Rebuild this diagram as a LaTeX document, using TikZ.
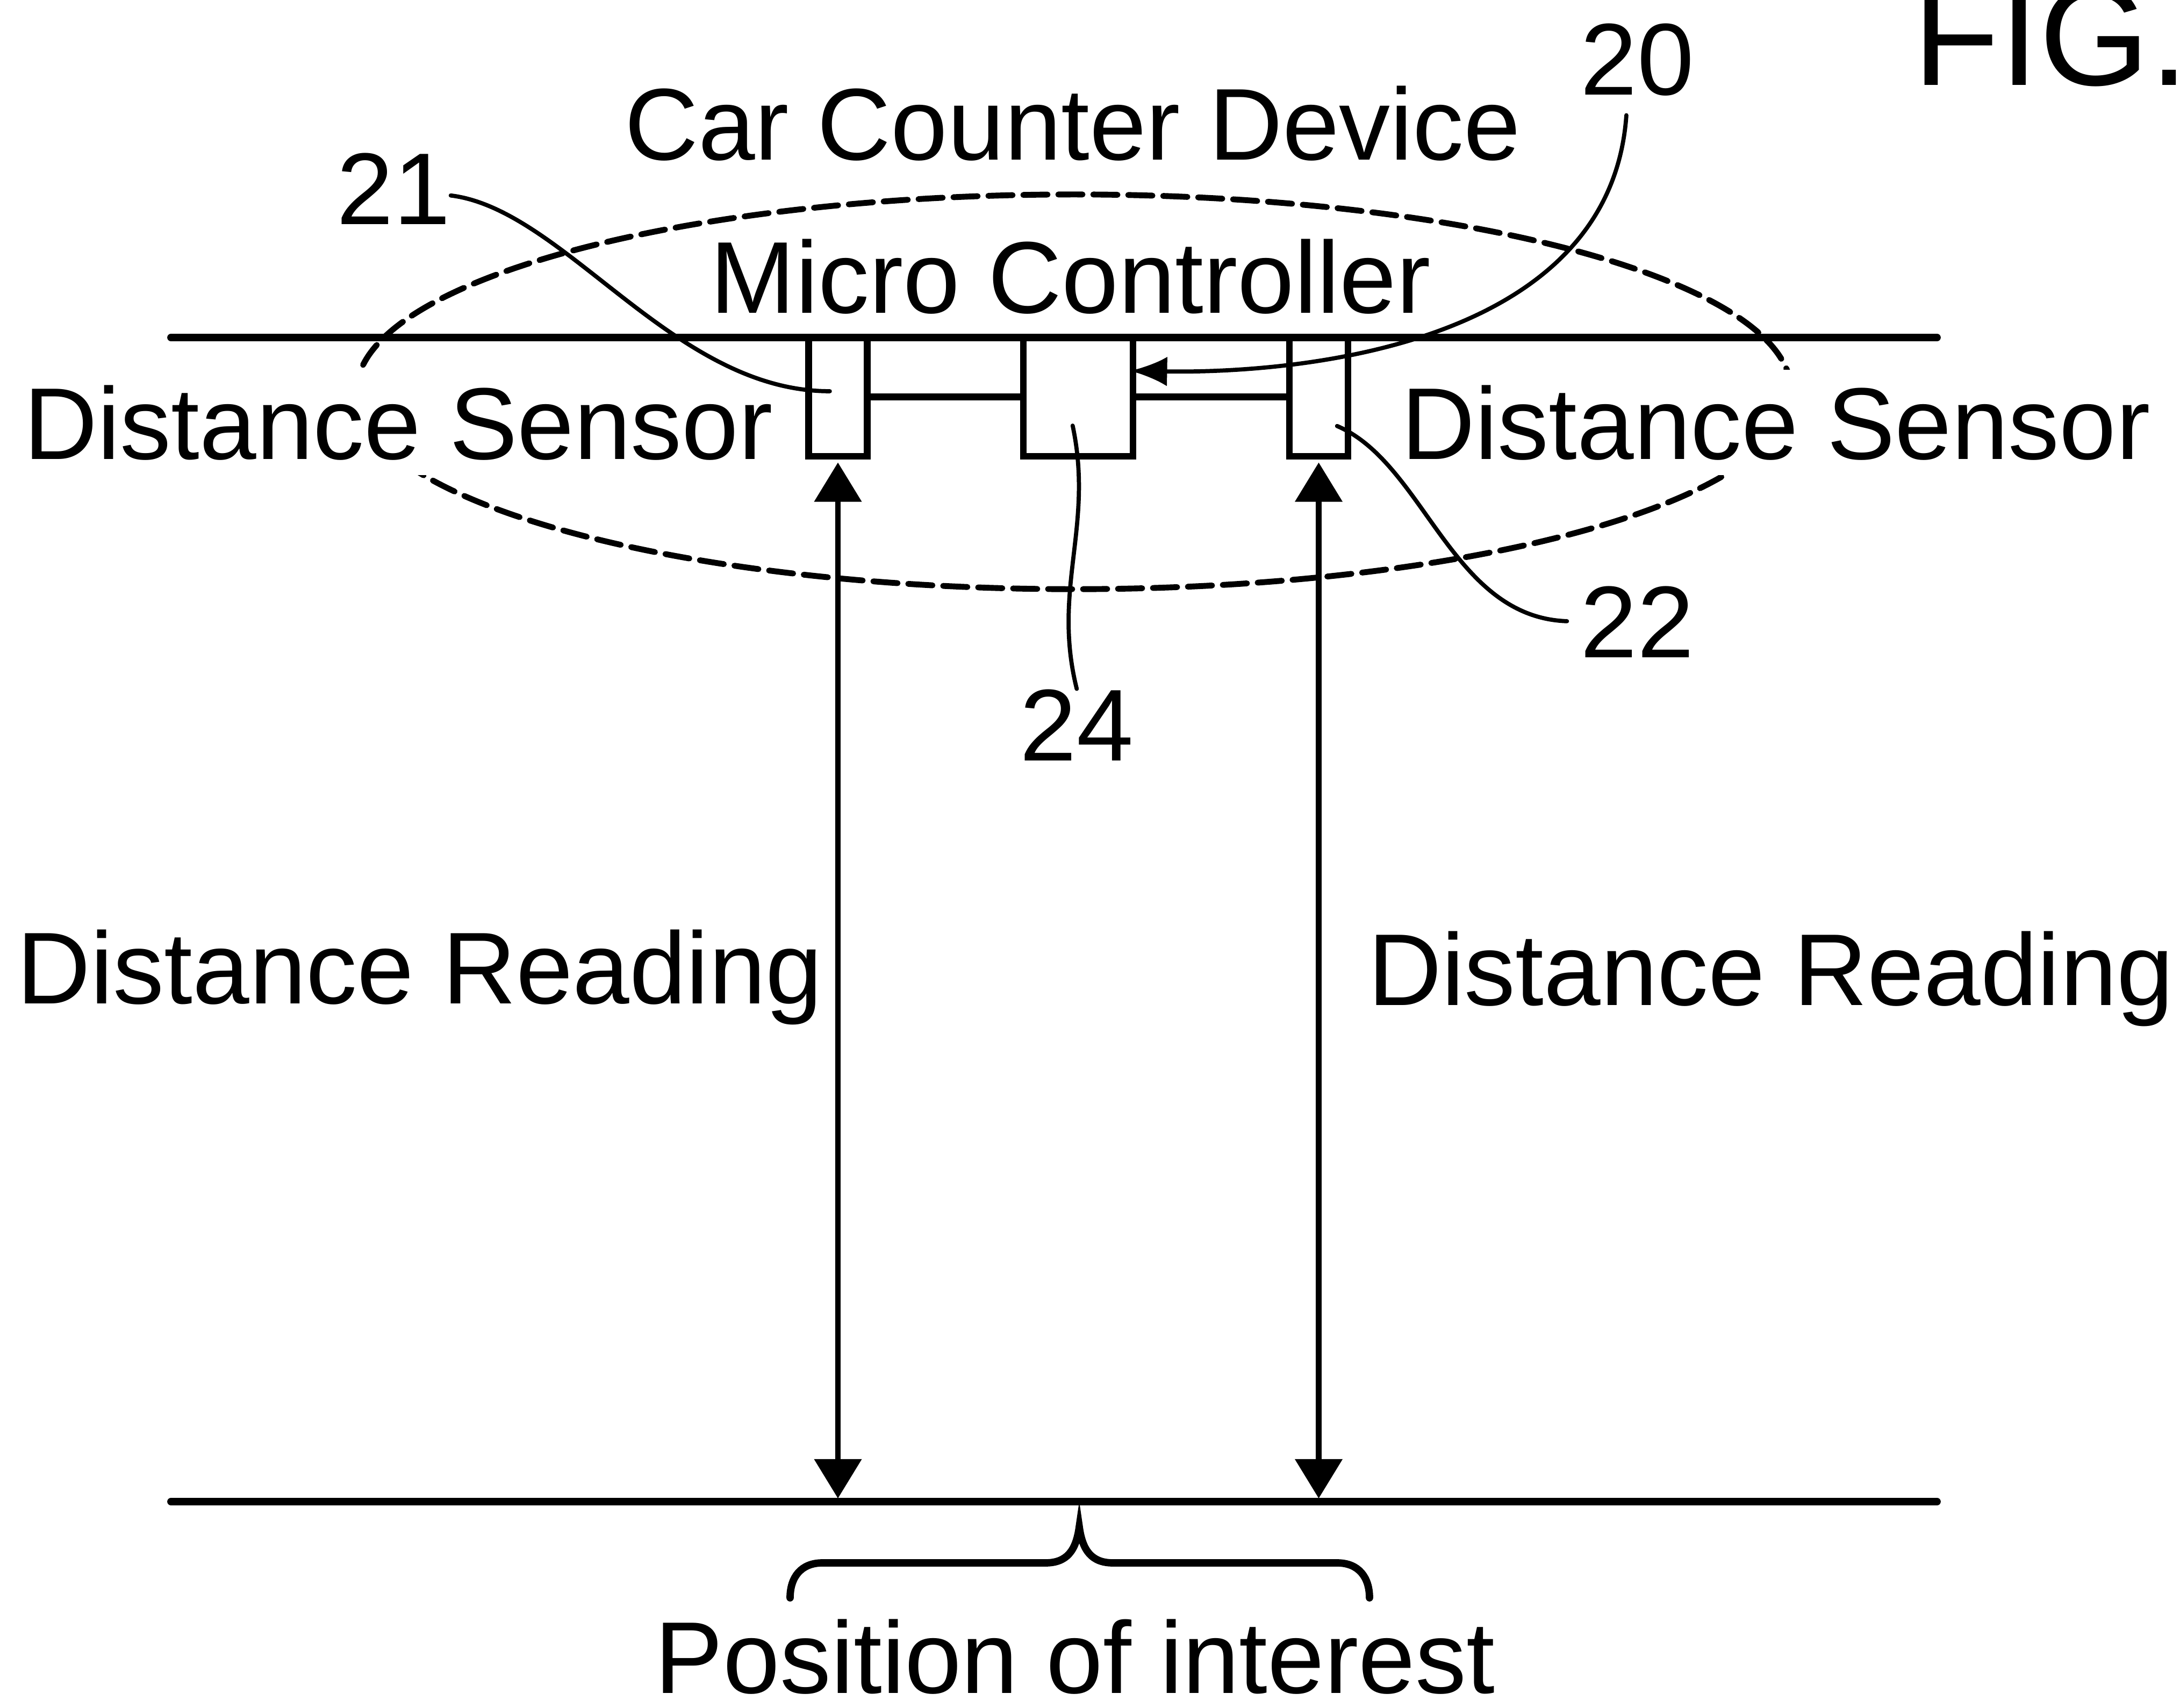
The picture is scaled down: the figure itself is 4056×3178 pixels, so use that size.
\documentclass[tikz,border=0pt]{standalone}
\usepackage{fontspec}
\setmainfont{Liberation Sans}
\usepackage{tikz}
\usetikzlibrary{arrows.meta}
\tikzstyle{sensor} = [rectangle, draw, line width=3.5pt, minimum width=1.09cm, minimum height=2.21cm, inner sep=0pt]
\tikzstyle{ctrl} = [sensor, minimum width=2.04cm]
\tikzstyle{txt} = [inner sep=0pt, font=\fontsize{54}{60}\selectfont]
\tikzstyle{lbl} = [txt, fill=white, inner ysep=8pt]
\tikzstyle{lead} = [line width=2.2pt]
\tikzstyle{rail} = [line width=3.9pt]

\begin{document}
\begin{tikzpicture}[x=0.01cm,y=0.01cm,>={Triangle[length=20.8pt,width=24.5pt]},line cap=round,node distance=4.47cm]
  \useasboundingbox (0,0) rectangle (4056,-3178);
  \draw[line width=3.1pt, dash pattern=on 12.8pt off 5.7pt] (1998,-729) ellipse [x radius=13.34cm, y radius=3.67cm];

  \node[txt, font=\fontsize{75}{80}\selectfont, anchor=base west] (FIG) at (3559,-158) {FIG.};
  \node[txt, anchor=base] (Device) at (1996,-297) {Car Counter Device};
  \node[txt, anchor=base] (Ctrl_txt) at (1992,-582) {Micro Controller};
  \node[lbl, anchor=base west] (DS_L) at (44,-854) {Distance Sensor};
  \node[lbl, anchor=base west] (DS_R) at (2607,-854) {Distance Sensor};
  \node[txt, anchor=base west] (DR_L) at (31,-1867) {Distance Reading};
  \node[txt, anchor=base west] (DR_R) at (2545,-1870) {Distance Reading};
  \node[txt, anchor=base] (Pos) at (2000,-3150) {Position of interest};
  \node[txt, anchor=base west] (N_21) at (626,-417) {21};
  \node[txt, anchor=base west] (N_20) at (2940,-176) {20};
  \node[txt, anchor=base west] (N_22) at (2940,-1223) {22};
  \node[txt, anchor=base west] (N_24) at (1897,-1415) {24};

  \coordinate (Top_L) at (318,-628);
  \coordinate (Top_R) at (3604,-628);
  \coordinate (Gnd_L) at (318,-2794);
  \coordinate (Gnd_R) at (3604,-2794);
  \draw[rail] (Top_L) -- (Top_R);
  \draw[rail] (Gnd_L) -- (Gnd_R);

  \node[sensor] (S_L) at (1559,-738.5) {};
  \node[ctrl] (Ctrl) [right of=S_L] {};
  \node[sensor] (S_R) [right of=Ctrl] {};
  \coordinate (Hit_L) at (S_L |- Gnd_L);
  \coordinate (Hit_R) at (S_R |- Gnd_L);

  \path[rail] (S_L) edge node {} (Ctrl);
  \path[rail] (Ctrl) edge node {} (S_R);
  \path[<->, line width=3.1pt, shorten <=1.5pt, shorten >=1.7pt] (S_L) edge node {} (Hit_L);
  \path[<->, line width=3.1pt, shorten <=1.5pt, shorten >=1.7pt] (S_R) edge node {} (Hit_R);

  \draw[lead] ([yshift=-3.7pt]N_21.east) to[out=-7, in=180, out looseness=0.69, in looseness=0.94] ([xshift=-4.3pt,yshift=3pt]S_L.center);
  \draw[lead, shorten >=7pt] ([xshift=9.7pt,yshift=-15.4pt]S_R.center) to[out=-23, in=178, out looseness=0.78, in looseness=1.06] (N_22.west);
  \draw[lead] ([xshift=-3pt,yshift=-15.2pt]Ctrl.center) to[out=-78, in=104] (N_24.north);
  \draw[lead, -{Latex[length=19.6pt,width=15.6pt]}] ([xshift=-5.8pt,yshift=-10.2pt]N_20.south) to[out=-94, in=-1, out looseness=1.07, in looseness=0.74] ([xshift=-3.4pt,yshift=13.8pt]Ctrl.east);

  \draw[rail] (1470,-2973) .. controls (1470,-2935) and (1490,-2908) .. (1530,-2908) -- (1945,-2908)
    .. controls (1985,-2908) and (2002,-2885) .. (2008,-2841) .. controls (2014,-2885) and (2031,-2908) .. (2071,-2908)
    -- (2488,-2908) .. controls (2528,-2908) and (2548,-2935) .. (2548,-2973);
\end{tikzpicture}
\end{document}
